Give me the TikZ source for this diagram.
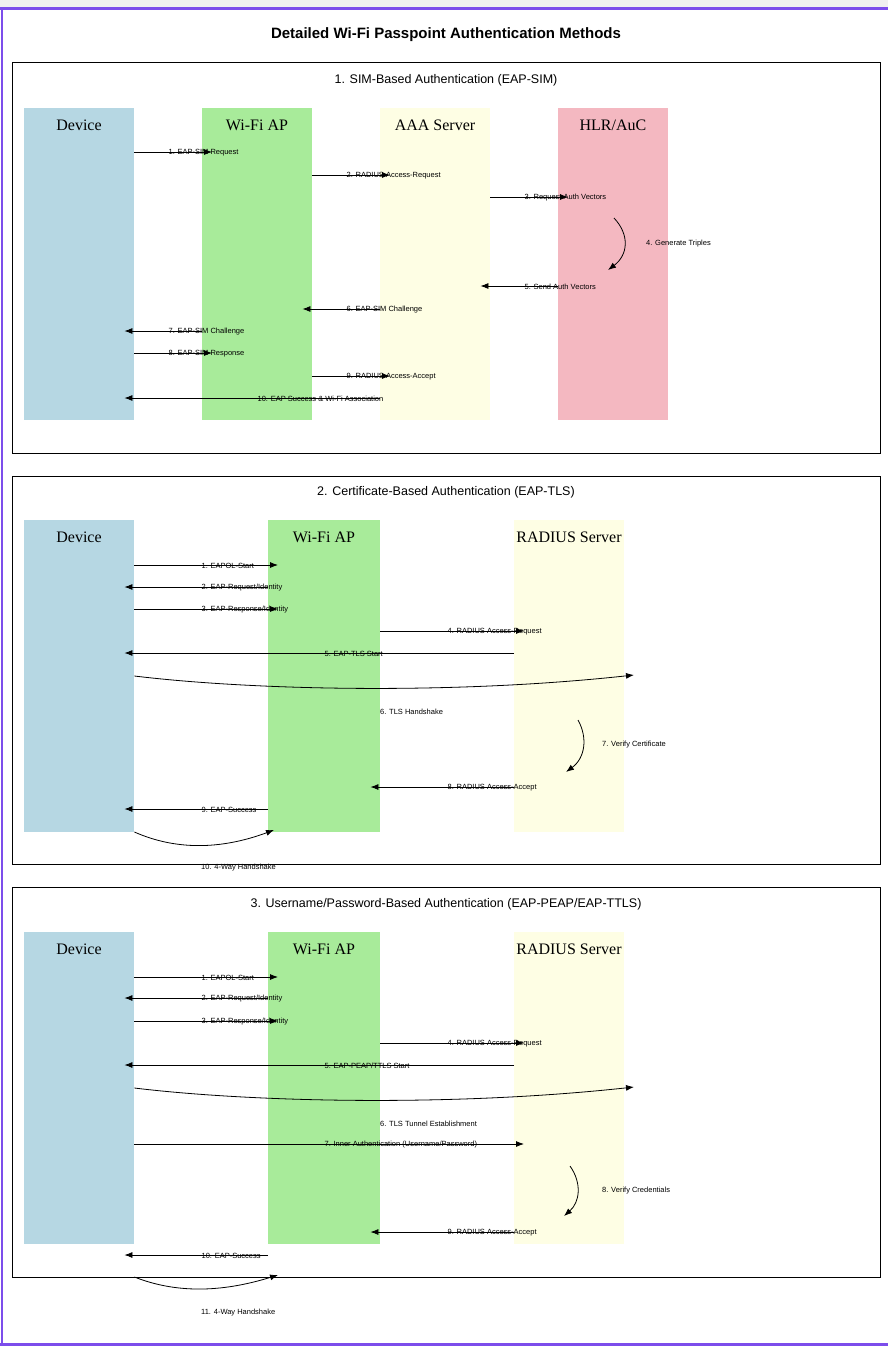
\documentclass[tikz,border=0pt]{standalone}
\usepackage{fontspec}
\setmainfont{Liberation Sans}
\newfontfamily\serifl{Liberation Serif}
\usetikzlibrary{arrows.meta}
\definecolor{cdev}{HTML}{B6D7E3}
\definecolor{cap}{HTML}{A8EB9A}
\definecolor{caaa}{HTML}{FEFEE4}
\definecolor{chlr}{HTML}{F4B8C1}
\definecolor{purp}{HTML}{7C4DEB}
\tikzset{
 lane/.style={draw=none,minimum width=110pt,minimum height=312pt,anchor=north west,inner sep=0},
 ltitle/.style={font=\serifl\fontsize{16}{16}\selectfont,anchor=center},
 sect/.style={draw=black,line width=0.8pt},
 stitle/.style={font=\fontsize{12.5}{14}\selectfont},
 msg/.style={line width=0.8pt,-{Latex[length=8pt,width=6pt]},shorten >=-10pt},
 lab/.style={font=\fontsize{7.5}{8}\selectfont,anchor=south west,inner sep=0,yshift=-4pt},
 flab/.style={font=\fontsize{7.5}{8}\selectfont,anchor=west,inner sep=0}
}
\newcommand\mR[4]{\draw[msg] (#1.east|-0,#3) -- node[lab,pos=0.5]{#4} (#2.west|-0,#3);}
\newcommand\mL[4]{\draw[msg] (#1.west|-0,#3) -- node[lab,pos=0.5]{#4} (#2.east|-0,#3);}
\begin{document}
\begin{tikzpicture}[x=1pt,y=-1pt]
\useasboundingbox (0,0) rectangle (888,1350);
\fill[gray!12] (0,0) rectangle (888,8);
\draw[purp,line width=3pt] (0,8) -- (888,8);
\draw[purp,line width=3pt] (0,1344) -- (888,1344);
\draw[purp,line width=2pt] (2,8) -- (2,1344);
\node[font=\bfseries\fontsize{15}{16}\selectfont] (title) at (446,35) {Detailed Wi-Fi Passpoint Authentication Methods};
% Section 1
\draw[sect] (12,62) rectangle (880,453);
\node[stitle] (s1) at (446,80) {1. SIM-Based Authentication (EAP-SIM)};
\node[lane,fill=cdev] (d1) at (24,108) {};
\node[lane,fill=cap] (a1) at (202,108) {};
\node[lane,fill=caaa] (s1a) at (380,108) {};
\node[lane,fill=chlr] (h1) at (558,108) {};
\node[ltitle] at (79,125) {Device};
\node[ltitle] at (257,125) {Wi-Fi AP};
\node[ltitle] at (435,125) {AAA Server};
\node[ltitle] at (613,125) {HLR/AuC};
\mR{d1}{a1}{152}{1. EAP-SIM Request}
\mR{a1}{s1a}{175}{2. RADIUS Access-Request}
\mR{s1a}{h1}{197}{3. Request Auth Vectors}
\coordinate (g1) at (614,218); \coordinate (g2) at (608,270);
\draw[line width=0.8pt,-{Latex[length=8pt,width=6pt]}] (g1) .. controls (630,235) and (628,255) .. (g2);
\node[flab] at (646,244) {4. Generate Triples};
\mL{h1}{s1a}{286}{5. Send Auth Vectors}
\mL{s1a}{a1}{309}{6. EAP-SIM Challenge}
\mL{a1}{d1}{331}{7. EAP-SIM Challenge}
\mR{d1}{a1}{353}{8. EAP-SIM Response}
\mR{a1}{s1a}{376}{9. RADIUS Access-Accept}
\mL{s1a}{d1}{398}{10. EAP Success \& Wi-Fi Association}
% Section 2
\draw[sect] (12,476) rectangle (880,864);
\node[stitle] (s2) at (446,492) {2. Certificate-Based Authentication (EAP-TLS)};
\node[lane,fill=cdev] (d2) at (24,520) {};
\node[lane,fill=cap,minimum width=112pt] (a2) at (268,520) {};
\node[lane,fill=caaa] (r2) at (514,520) {};
\node[ltitle] at (79,537) {Device};
\node[ltitle] at (324,537) {Wi-Fi AP};
\node[ltitle] at (569,537) {RADIUS Server};
\mR{d2}{a2}{565}{1. EAPOL-Start}
\mL{a2}{d2}{587}{2. EAP-Request/Identity}
\mR{d2}{a2}{609}{3. EAP-Response/Identity}
\mR{a2}{r2}{631}{4. RADIUS Access-Request}
\mL{r2}{d2}{653}{5. EAP-TLS Start}
\coordinate (t2) at (634,675);
\draw[line width=0.8pt,-{Latex[length=8pt,width=6pt]}] (d2.east|-0,676) .. controls (250,690) and (450,695) .. (t2);
\node[flab] at (380,712) {6. TLS Handshake};
\coordinate (v1) at (578,720); \coordinate (v2) at (566,772);
\draw[line width=0.8pt,-{Latex[length=8pt,width=6pt]}] (v1) .. controls (588,738) and (585,758) .. (v2);
\node[flab] at (602,745) {7. Verify Certificate};
\mL{r2}{a2}{787}{8. RADIUS Access-Accept}
\mL{a2}{d2}{809}{9. EAP-Success}
\coordinate (w2) at (274,830);
\draw[line width=0.8pt,-{Latex[length=8pt,width=6pt]}] (d2.east|-0,832) .. controls (175,850) and (220,850) .. (w2);
\node[flab] at (201,868) {10. 4-Way Handshake};
% Section 3
\draw[sect] (12,887) rectangle (880,1277);
\node[stitle] (s3) at (446,904) {3. Username/Password-Based Authentication (EAP-PEAP/EAP-TTLS)};
\node[lane,fill=cdev] (d3) at (24,932) {};
\node[lane,fill=cap,minimum width=112pt] (a3) at (268,932) {};
\node[lane,fill=caaa] (r3) at (514,932) {};
\node[ltitle] at (79,949) {Device};
\node[ltitle] at (324,949) {Wi-Fi AP};
\node[ltitle] at (569,949) {RADIUS Server};
\mR{d3}{a3}{977}{1. EAPOL-Start}
\mL{a3}{d3}{998}{2. EAP-Request/Identity}
\mR{d3}{a3}{1021}{3. EAP-Response/Identity}
\mR{a3}{r3}{1043}{4. RADIUS Access-Request}
\mL{r3}{d3}{1065}{5. EAP-PEAP/TTLS Start}
\coordinate (t3) at (634,1087);
\draw[line width=0.8pt,-{Latex[length=8pt,width=6pt]}] (d3.east|-0,1088) .. controls (250,1102) and (450,1107) .. (t3);
\node[flab] at (380,1124) {6. TLS Tunnel Establishment};
\mR{d3}{r3}{1144}{7. Inner Authentication (Username/Password)}
\coordinate (c1) at (570,1166); \coordinate (c2) at (564,1216);
\draw[line width=0.8pt,-{Latex[length=8pt,width=6pt]}] (c1) .. controls (582,1183) and (580,1202) .. (c2);
\node[flab] at (602,1191) {8. Verify Credentials};
\mL{r3}{a3}{1232}{9. RADIUS Access-Accept}
\mL{a3}{d3}{1255}{10. EAP-Success}
\coordinate (w3) at (278,1275);
\draw[line width=0.8pt,-{Latex[length=8pt,width=6pt]}] (d3.east|-0,1277) .. controls (175,1293) and (220,1293) .. (w3);
\node[flab] at (201,1313) {11. 4-Way Handshake};
\end{tikzpicture}
\end{document}
